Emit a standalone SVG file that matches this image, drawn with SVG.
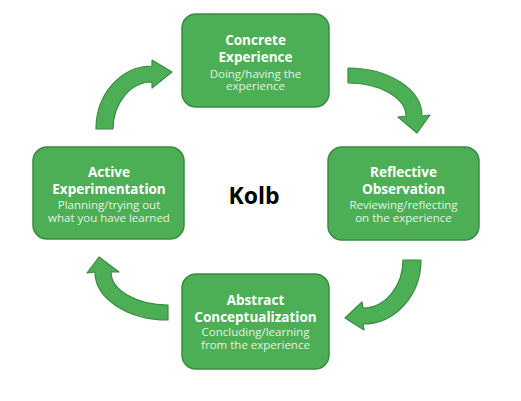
<svg xmlns="http://www.w3.org/2000/svg" width="521" height="401" viewBox="0 0 521 401">
<style>
.box{fill:#4caf56;stroke:#3a8a41;stroke-width:1.5}
.arr{fill:#4caf56;stroke:#3a8a41;stroke-width:1.2;stroke-linejoin:round}
.t{font-family:"Open Sans","Liberation Sans",sans-serif;font-weight:bold;font-size:13.5px;fill:#ffffff;text-anchor:middle}
.s{font-family:"Open Sans","Liberation Sans",sans-serif;font-size:11.5px;fill:#e3f3e3;text-anchor:middle}
.k{font-family:"Open Sans","Liberation Sans",sans-serif;font-weight:bold;font-size:23px;fill:#000;text-anchor:middle}
</style>
<rect width="521" height="401" fill="#fff"/>
<g id="connectors">
<path class="arr" d="M 96 129 A 56 63 0 0 1 152 66 L 152 60 L 172 72 L 152 88 L 152 82 A 39 47 0 0 0 113 129 Z"/>
<path class="arr" d="M 348 68 A 74 48 0 0 1 422 116 L 430 115 L 417 133 L 398 117 L 406 116 A 58 33 0 0 0 348 83 Z"/>
<path class="arr" d="M 421 260 A 58 64 0 0 1 363 324 L 364 330 L 345 318 L 362 302 L 363 308 A 40 48 0 0 0 403 260 Z"/>
<path class="arr" d="M 168 320 A 73 48 0 0 1 95 272 L 87 273 L 99 257 L 119 272 L 111 272 A 57 33 0 0 0 168 305 Z"/>
</g>
<g id="concrete">
<rect class="box" x="182" y="14" width="147" height="93" rx="14"/>
<text class="t" x="255.5" y="45">Concrete</text>
<text class="t" x="255.5" y="62">Experience</text>
<text class="s" x="255.5" y="78">Doing/having the</text>
<text class="s" x="255.5" y="90">experience</text>
</g>
<g id="reflective">
<rect class="box" x="328" y="147" width="151" height="93" rx="14"/>
<text class="t" x="403.5" y="177">Reflective</text>
<text class="t" x="403.5" y="194">Observation</text>
<text class="s" x="403.5" y="209">Reviewing/reflecting</text>
<text class="s" x="403.5" y="222">on the experience</text>
</g>
<g id="active">
<rect class="box" x="33" y="147" width="151" height="92" rx="14"/>
<text class="t" x="109" y="177">Active</text>
<text class="t" x="109" y="194">Experimentation</text>
<text class="s" x="109" y="209">Planning/trying out</text>
<text class="s" x="109" y="222">what you have learned</text>
</g>
<g id="abstract">
<rect class="box" x="182" y="274" width="147" height="95" rx="14"/>
<text class="t" x="255.5" y="305">Abstract</text>
<text class="t" x="255.5" y="322">Conceptualization</text>
<text class="s" x="255.5" y="336">Concluding/learning</text>
<text class="s" x="255.5" y="349">from the experience</text>
</g>
<g id="kolb">
<text class="k" x="254" y="204">Kolb</text>
</g>
</svg>
